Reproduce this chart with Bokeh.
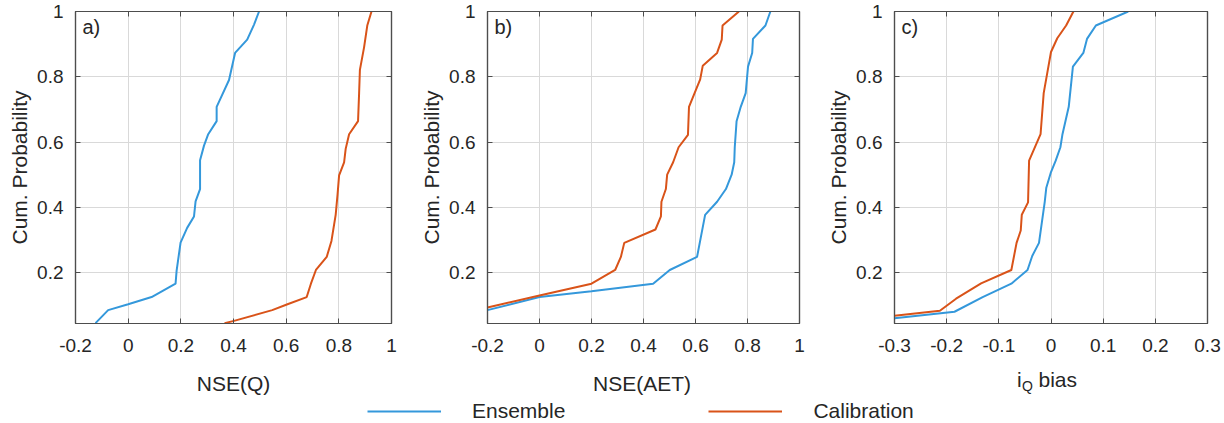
from bokeh.plotting import figure
from bokeh.models import Range1d, FixedTicker, LinearAxis, Label, Legend
from bokeh.layouts import column, row
from bokeh.embed import file_html
from bokeh.resources import INLINE

# ---------------- data ----------------
Q_ens_x = [-0.124, -0.076, 0.0, 0.089, 0.18, 0.184, 0.199, 0.224, 0.25, 0.256, 0.273,
           0.273, 0.288, 0.304, 0.336, 0.336, 0.383, 0.406, 0.452, 0.478, 0.497]
Q_ens_y = [0.045, 0.085, 0.103, 0.125, 0.166, 0.206, 0.292, 0.337, 0.372, 0.418, 0.456,
           0.544, 0.589, 0.624, 0.664, 0.708, 0.79, 0.873, 0.914, 0.96, 1.0]
Q_cal_x = [0.366, 0.402, 0.547, 0.605, 0.678, 0.694, 0.713, 0.754, 0.772, 0.788, 0.795,
           0.801, 0.82, 0.826, 0.839, 0.873, 0.877, 0.88, 0.896, 0.908, 0.924]
Q_cal_y = [0.045, 0.052, 0.085, 0.103, 0.125, 0.166, 0.208, 0.248, 0.297, 0.377, 0.438,
           0.498, 0.538, 0.579, 0.624, 0.664, 0.75, 0.821, 0.891, 0.957, 1.0]

AET_ens_x = [-0.2, 0.0, 0.2, 0.437, 0.501, 0.606, 0.637, 0.683, 0.717, 0.739, 0.749,
             0.751, 0.758, 0.774, 0.793, 0.802, 0.818, 0.821, 0.869, 0.888]
AET_ens_y = [0.085, 0.125, 0.143, 0.166, 0.208, 0.248, 0.377, 0.417, 0.456, 0.5, 0.538,
             0.584, 0.664, 0.708, 0.75, 0.831, 0.873, 0.916, 0.957, 1.0]
AET_cal_x = [-0.2, 0.0, 0.2, 0.291, 0.313, 0.326, 0.446, 0.467, 0.469, 0.486, 0.491,
             0.514, 0.535, 0.571, 0.575, 0.618, 0.628, 0.683, 0.701, 0.704, 0.767]
AET_cal_y = [0.093, 0.13, 0.166, 0.208, 0.248, 0.291, 0.332, 0.372, 0.417, 0.456, 0.5,
             0.538, 0.584, 0.622, 0.708, 0.792, 0.834, 0.873, 0.914, 0.957, 1.0]

iQ_ens_x = [-0.3, -0.185, -0.131, -0.076, -0.045, -0.036, -0.023, -0.012, -0.009, 0.0,
            0.009, 0.018, 0.022, 0.034, 0.042, 0.062, 0.069, 0.086, 0.148]
iQ_ens_y = [0.06, 0.08, 0.125, 0.166, 0.208, 0.251, 0.291, 0.417, 0.46, 0.508,
            0.543, 0.584, 0.624, 0.708, 0.831, 0.873, 0.916, 0.957, 1.0]
iQ_cal_x = [-0.3, -0.213, -0.182, -0.134, -0.076, -0.066, -0.058, -0.056, -0.044, -0.042,
            -0.02, -0.014, -0.005, 0.0, 0.012, 0.029, 0.043]
iQ_cal_y = [0.068, 0.083, 0.12, 0.167, 0.208, 0.291, 0.329, 0.377, 0.415, 0.543,
            0.624, 0.75, 0.831, 0.876, 0.918, 0.957, 1.0]

nse_ticks = [-0.2, 0, 0.2, 0.4, 0.6, 0.8, 1]
nse_labels = ["-0.2", "0", "0.2", "0.4", "0.6", "0.8", "1"]
bias_ticks = [-0.3, -0.2, -0.1, 0, 0.1, 0.2, 0.3]
bias_labels = ["-0.3", "-0.2", "-0.1", "0", "0.1", "0.2", "0.3"]
y_ticks = [0.2, 0.4, 0.6, 0.8, 1]
y_labels = ["0.2", "0.4", "0.6", "0.8", "1"]

series_names = ["Ensemble", "Calibration"]
x_titles = ["NSE(Q)", "NSE(AET)"]

BLUE = "#3498DB"
ORANGE = "#D95319"
TXT = "#262626"
FRAME = "#4D4D4D"
FONT = "Liberation Sans"
NAN = float("nan")

H = 360        # height of each panel figure
H2 = 63        # height of the strip with x titles and legend


def style_axis(ax, ticks, labels, show_labels=True):
    ax.ticker = FixedTicker(ticks=ticks)
    ax.axis_line_color = FRAME
    ax.axis_line_width = 1.2
    ax.major_tick_line_color = FRAME
    ax.major_tick_line_width = 1
    ax.major_tick_in = 5
    ax.major_tick_out = 0
    ax.minor_tick_line_color = None
    ax.major_label_text_font = FONT
    if show_labels:
        ax.major_label_overrides = {t: l for t, l in zip(ticks, labels)}
        ax.major_label_text_font_size = "19px"
        ax.major_label_text_color = TXT
    else:
        ax.major_label_overrides = {t: "" for t in ticks}
        ax.major_label_text_font_size = "1px"
        ax.major_label_text_color = None
        ax.major_label_standoff = 0


def make_panel(width, left, right, xr, xticks, xlabels, letter, ens, cal):
    p = figure(width=width, height=H, x_range=Range1d(*xr), y_range=Range1d(0.044, 1.0),
               toolbar_location=None, output_backend="svg",
               min_border_left=left, min_border_right=right,
               min_border_top=11, min_border_bottom=37)
    p.outline_line_color = FRAME
    p.outline_line_width = 1.2
    style_axis(p.xaxis[0], xticks, xlabels)
    style_axis(p.yaxis[0], y_ticks, y_labels)
    p.xaxis[0].major_label_standoff = 15
    p.yaxis[0].major_label_standoff = 12
    p.yaxis[0].axis_label = "Cum. Probability"
    p.yaxis[0].axis_label_standoff = 3
    p.yaxis[0].axis_label_text_font = FONT
    p.yaxis[0].axis_label_text_color = TXT
    p.yaxis[0].axis_label_text_font_style = "normal"
    p.yaxis[0].axis_label_text_font_size = "21px"

    top = LinearAxis()
    style_axis(top, xticks, xlabels, show_labels=False)
    p.add_layout(top, "above")
    rgt = LinearAxis()
    style_axis(rgt, y_ticks, y_labels, show_labels=False)
    p.add_layout(rgt, "right")

    p.grid.grid_line_color = "#D9D9D9"
    p.grid.grid_line_width = 1

    p.line(ens[0], ens[1], line_color=BLUE, line_width=2)
    p.line(cal[0], cal[1], line_color=ORANGE, line_width=2)

    p.add_layout(Label(x=7, y=297, x_units="screen", y_units="screen", text=letter,
                       text_font=FONT, text_font_size="20px", text_color=TXT,
                       text_baseline="middle"))
    return p


pa = make_panel(417, 75, 26, (-0.2, 1.0), nse_ticks, nse_labels, "a)",
                (Q_ens_x, Q_ens_y), (Q_cal_x, Q_cal_y))
pb = make_panel(407, 67, 25, (-0.2, 1.0), nse_ticks, nse_labels, "b)",
                (AET_ens_x, AET_ens_y), (AET_cal_x, AET_cal_y))
pc = make_panel(400, 67, 17, (-0.3, 0.3), bias_ticks, bias_labels, "c)",
                (iQ_ens_x, iQ_ens_y), (iQ_cal_x, iQ_cal_y))

# strip below: x titles (with the subscript of panel c) and the legend
pl = figure(width=1224, height=H2, x_range=Range1d(0, 1), y_range=Range1d(0, 1),
            toolbar_location=None, output_backend="svg", min_border=0)
pl.axis.visible = False
pl.grid.visible = False
pl.outline_line_color = None

def strip_text(txt, x, y, size="21px", align="center"):
    pl.add_layout(Label(x=x, y=y, x_units="screen", y_units="screen", text=txt,
                        text_font=FONT, text_font_size=size, text_color=TXT,
                        text_baseline="alphabetic", text_align=align))

strip_text(x_titles[0], 233, 40)
strip_text(x_titles[1], 641.5, 40)
strip_text("i", 1016.5, 44, align="left")
strip_text("Q", 1021.5, 38, size="14px", align="left")
strip_text("bias", 1038, 44, align="left")

r1 = pl.line(x=[NAN], y=[NAN], line_color=BLUE, line_width=2)
r2 = pl.line(x=[NAN], y=[NAN], line_color=ORANGE, line_width=2)
leg = Legend(items=[(series_names[0], [r1]), (series_names[1], [r2])],
             orientation="horizontal", location=(367, 0),
             glyph_width=74, glyph_height=20, label_standoff=31, spacing=143,
             padding=0, margin=0, border_line_color=None, background_fill_alpha=0,
             label_text_font=FONT, label_text_font_size="21px", label_text_color=TXT)
pl.add_layout(leg, "center")

layout = column(row(pa, pb, pc), pl)
open("out.html", "w").write(file_html(layout, INLINE))
